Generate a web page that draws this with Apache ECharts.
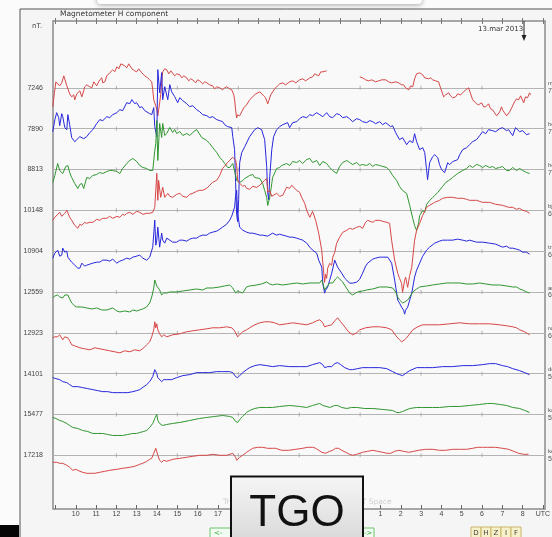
<!DOCTYPE html>
<html>
<head>
<meta charset="utf-8">
<script src="https://cdn.jsdelivr.net/npm/echarts@6/dist/echarts.min.js"></script>
<style>
  html, body { margin: 0; padding: 0; background: #fbfbfb; }
  #chart { width: 552px; height: 537px; }
</style>
</head>
<body>
<div id="chart"></div>
<script>
// baseline H level (nT) of each station row, top row first
const stationLevels = ['7246', '7890', '8813', '10148', '10904', '12559', '12923', '14101', '15477', '17218']
// right edge labels (mostly cut off by the window)
const stationTags = ['ny', 'ho', 'ho', 'bj', 'tr', 'an', 'rø', 'do', 'ka', 'ke']
const stationLats = ['75', '74', '73', '67', '66', '65', '64', '59', '57', '56']

// UT hours, 9 -> 33 is 09 UT on 12 Mar to 09 UT on 13 Mar
const hourTicks = [9, 10, 11, 12, 13, 14, 15, 16, 17, 18, 19, 20, 21, 22, 23, 24, 25, 26, 27, 28, 29, 30, 31, 32, 33]
const hourLabels = [10, 11, 12, 13, 14, 15, 16, 17, 18, 19, 20, 21, 22, 23, 24, 25, 26, 27, 28, 29, 30, 31, 32, 33]
const baselineMarks = [12, 15, 18, 21, 24, 27, 30]

// traces: [UT hour, deviation from the row baseline]
const trace1 = [[8.87,-19],[8.95,-5],[9.02,6],[9.11,8],[9.21,2],[9.31,5],[9.41,12],[9.46,10],[9.56,2],[9.61,1],[9.70,-6],[9.80,-9],[9.90,-7],[9.95,-12],[10.05,-6],[10.10,-5],[10.20,-3],[10.30,-9],[10.39,-3],[10.44,1],[10.54,3],[10.59,5],[10.69,1],[10.79,0],[10.89,6],[10.94,8],[11.03,2],[11.08,3],[11.18,8],[11.28,10],[11.33,5],[11.43,6],[11.53,12],[11.57,13],[11.67,15],[11.82,18],[11.92,16],[12.02,21],[12.12,19],[12.22,24],[12.31,25],[12.41,22],[12.51,20],[12.61,24],[12.66,23],[12.76,19],[12.81,20],[12.90,17],[13.00,16],[13.10,19],[13.15,18],[13.25,15],[13.30,13],[13.40,12],[13.54,10],[13.64,8],[13.74,6],[13.79,-2],[13.84,-12],[13.94,-18],[13.99,-22],[14.04,-28],[14.08,-29],[14.13,-15],[14.18,-7],[14.23,5],[14.28,16],[14.38,19],[14.48,18],[14.58,14],[14.68,17],[14.77,15],[14.87,12],[14.97,14],[15.12,13],[15.22,10],[15.32,12],[15.46,10],[15.56,7],[15.66,9],[15.76,8],[15.90,5],[16.00,8],[16.10,7],[16.25,4],[16.35,6],[16.45,5],[16.59,3],[16.74,2],[16.84,-1],[16.94,1],[17.09,0],[17.23,-2],[17.33,0],[17.43,1],[17.58,-1],[17.68,-2],[17.78,-7],[17.82,-12],[17.87,-22],[17.92,-30],[17.97,-27],[18.07,-28],[18.17,-24],[18.27,-20],[18.41,-17],[18.56,-12],[18.71,-9],[18.86,-6],[19.06,-4],[19.15,-5],[19.25,-8],[19.35,-10],[19.45,-16],[19.50,-13],[19.60,-7],[19.65,-5],[19.79,-1],[19.94,2],[20.04,4],[20.19,5],[20.33,3],[20.53,6],[20.68,7],[20.83,5],[21.02,8],[21.17,9],[21.32,7],[21.52,10],[21.66,11],[21.76,14],[21.86,13],[21.96,12],[22.06,16],[22.16,16],[22.25,15],[22.35,17],
  [23.1,null],
  [23.98,11],[24.12,10],[24.27,8],[24.42,7],[24.57,8],[24.76,6],[24.91,7],[25.06,8],[25.26,8],[25.40,6],[25.55,5],[25.75,6],[25.90,5],[26.04,3],[26.14,3],[26.24,0],[26.39,-2],[26.49,2],[26.59,1],[26.68,9],[26.78,14],[26.83,16],[26.93,15],[27.08,13],[27.18,10],[27.27,12],[27.37,9],[27.47,10],[27.57,8],[27.72,7],[27.86,6],[27.96,0],[28.06,-6],[28.11,-9],[28.21,-7],[28.36,-5],[28.45,-8],[28.55,-10],[28.70,-9],[28.80,-6],[28.95,-7],[29.05,-5],[29.19,-2],[29.34,0],[29.44,-6],[29.54,-12],[29.63,-14],[29.73,-16],[29.83,-17],[29.98,-15],[30.08,-19],[30.18,-19],[30.32,-16],[30.42,-21],[30.52,-22],[30.62,-25],[30.72,-28],[30.77,-30],[30.87,-24],[30.96,-19],[31.01,-22],[31.11,-25],[31.21,-28],[31.26,-30],[31.36,-24],[31.46,-20],[31.51,-19],[31.60,-14],[31.70,-11],[31.80,-12],[31.90,-8],[31.95,-10],[32.05,-15],[32.14,-9],[32.24,-10],[32.34,-5],[32.39,-7]]

const trace2 = [[8.87,-3],[8.97,9],[9.06,16],[9.16,11],[9.21,3],[9.31,15],[9.36,12],[9.46,1],[9.56,-1],[9.61,14],[9.70,4],[9.80,-9],[9.95,-13],[10.05,-11],[10.20,-8],[10.39,-10],[10.54,-8],[10.69,-4],[10.84,-1],[11.03,5],[11.18,9],[11.33,8],[11.53,12],[11.67,11],[11.82,14],[12.02,16],[12.17,19],[12.31,18],[12.51,26],[12.66,25],[12.76,29],[12.90,25],[13.00,26],[13.15,21],[13.25,22],[13.40,18],[13.49,19],[13.64,15],[13.74,14],[13.84,21],[13.89,2],[13.99,-8],[14.04,59],[14.13,36],[14.23,56],[14.28,29],[14.38,42],[14.53,29],[14.63,44],[14.72,37],[14.87,32],[15.02,26],[15.12,31],[15.27,28],[15.46,25],[15.61,22],[15.76,23],[15.95,19],[16.10,17],[16.25,14],[16.45,13],[16.59,11],[16.74,12],[16.94,9],[17.09,8],[17.23,7],[17.33,4],[17.48,2],[17.68,1],[17.73,-8],[17.82,-21],[17.87,-54],[17.92,-86],[17.97,-93],[18.02,-71],[18.07,-34],[18.17,-24],[18.32,-18],[18.56,-8],[18.81,-1],[18.96,1],[19.15,-1],[19.30,-11],[19.40,-38],[19.45,-64],[19.50,-71],[19.55,-48],[19.65,-21],[19.74,-8],[19.89,-1],[20.04,2],[20.19,4],[20.43,6],[20.53,1],[20.68,6],[20.88,7],[21.02,10],[21.17,12],[21.37,11],[21.52,14],[21.66,13],[21.86,16],[22.01,14],[22.16,12],[22.35,16],[22.50,12],[22.65,11],[22.84,15],[22.99,14],[23.14,11],[23.34,12],[23.48,10],[23.63,7],[23.83,10],[23.98,9],[24.12,7],[24.32,6],[24.47,8],[24.62,7],[24.76,5],[24.96,7],[25.11,4],[25.26,6],[25.50,2],[25.60,3],[25.75,-4],[25.94,-11],[26.09,-9],[26.29,-16],[26.44,-12],[26.59,-14],[26.68,-5],[26.78,-13],[26.93,-21],[27.08,-19],[27.18,-24],[27.27,-41],[27.32,-51],[27.42,-34],[27.57,-28],[27.67,-26],[27.82,-29],[27.91,-36],[28.01,-41],[28.16,-44],[28.31,-34],[28.41,-36],[28.55,-33],[28.80,-31],[28.90,-26],[29.05,-21],[29.24,-19],[29.39,-16],[29.54,-13],[29.73,-11],[29.88,-7],[30.03,-3],[30.18,-5],[30.32,-1],[30.52,-2],[30.67,-3],[30.87,0],[31.01,1],[31.21,-2],[31.31,-1],[31.51,-7],[31.65,1],[31.85,-3],[32.00,-2],[32.19,-6],[32.34,-5]]

const trace3 = [[8.87,-13],[8.97,-6],[9.11,6],[9.21,-1],[9.36,-4],[9.51,3],[9.61,4],[9.70,-3],[9.80,-8],[9.95,-14],[10.10,-19],[10.20,-15],[10.30,-14],[10.39,-19],[10.54,-8],[10.69,-9],[10.84,-6],[11.03,-5],[11.18,-3],[11.33,-4],[11.53,-2],[11.67,-1],[11.82,-1],[12.02,-2],[12.17,-4],[12.31,1],[12.51,6],[12.66,9],[12.81,11],[12.90,10],[13.00,8],[13.15,4],[13.30,2],[13.49,1],[13.64,-1],[13.79,-1],[13.89,19],[13.94,26],[13.99,49],[14.04,9],[14.13,46],[14.23,32],[14.28,46],[14.38,34],[14.48,36],[14.63,42],[14.77,37],[14.87,40],[14.97,36],[15.12,38],[15.27,34],[15.46,36],[15.61,34],[15.76,37],[15.95,40],[16.00,39],[16.20,32],[16.45,29],[16.59,26],[16.74,22],[16.94,17],[17.09,12],[17.23,9],[17.33,6],[17.48,2],[17.58,2],[17.73,6],[17.87,-6],[17.92,-11],[18.07,-13],[18.22,-11],[18.32,-9],[18.56,-6],[18.71,-5],[18.81,-8],[19.06,-9],[19.20,-14],[19.30,-21],[19.40,-28],[19.45,-36],[19.55,-28],[19.65,-14],[19.69,-8],[19.89,1],[20.04,2],[20.14,4],[20.38,6],[20.53,4],[20.68,8],[20.88,7],[21.02,9],[21.17,6],[21.37,10],[21.52,11],[21.66,7],[21.86,9],[22.01,4],[22.16,8],[22.35,6],[22.50,2],[22.65,-1],[22.84,-4],[22.99,3],[23.14,7],[23.34,9],[23.48,7],[23.63,5],[23.83,7],[23.98,4],[24.12,5],[24.32,4],[24.47,6],[24.62,3],[24.76,5],[24.96,4],[25.11,3],[25.31,2],[25.45,-1],[25.60,-6],[25.80,-11],[25.94,-17],[26.09,-21],[26.29,-24],[26.44,-36],[26.59,-49],[26.68,-56],[26.78,-61],[26.88,-53],[26.93,-46],[27.08,-41],[27.18,-43],[27.27,-35],[27.42,-31],[27.57,-28],[27.67,-26],[27.82,-23],[27.91,-21],[28.06,-17],[28.21,-13],[28.36,-11],[28.55,-8],[28.80,-4],[29.05,-1],[29.24,1],[29.39,4],[29.54,2],[29.73,5],[29.88,4],[30.03,2],[30.18,4],[30.37,2],[30.52,3],[30.67,1],[30.87,2],[31.01,3],[31.21,-1],[31.36,-1],[31.51,2],[31.70,-1],[31.85,1],[32.00,-1],[32.19,-3],[32.34,-4]]

const trace4 = [[8.87,-10],[8.97,-7],[9.06,-7],[9.21,-2],[9.31,-6],[9.36,-8],[9.46,-3],[9.56,0],[9.70,-7],[9.80,-10],[9.95,-15],[10.10,-18],[10.20,-14],[10.30,-15],[10.44,-12],[10.54,-13],[10.69,-12],[10.84,-12],[11.03,-9],[11.18,-10],[11.33,-8],[11.53,-8],[11.67,-6],[11.82,-8],[12.02,-6],[12.17,-7],[12.31,-4],[12.41,-5],[12.51,-3],[12.66,-2],[12.81,-4],[12.90,-3],[13.00,-1],[13.15,-2],[13.30,-4],[13.49,-3],[13.64,-3],[13.79,-2],[13.89,3],[13.99,37],[14.04,10],[14.08,30],[14.18,13],[14.28,23],[14.38,13],[14.53,17],[14.63,14],[14.77,13],[14.97,16],[15.12,17],[15.27,14],[15.46,13],[15.61,16],[15.76,17],[15.95,19],[16.10,20],[16.25,20],[16.45,22],[16.59,25],[16.74,28],[16.94,30],[17.09,35],[17.23,42],[17.33,44],[17.48,48],[17.58,50],[17.73,53],[17.87,50],[17.92,45],[17.97,30],[18.07,27],[18.22,24],[18.32,25],[18.41,22],[18.56,21],[18.71,24],[18.91,23],[19.06,25],[19.20,28],[19.30,30],[19.40,32],[19.45,18],[19.55,20],[19.65,14],[19.74,16],[19.89,17],[20.04,14],[20.19,15],[20.38,23],[20.53,22],[20.63,25],[20.88,20],[21.02,18],[21.12,13],[21.27,7],[21.37,0],[21.52,-7],[21.66,-1],[21.81,-10],[21.96,-23],[22.11,-40],[22.16,-52],[22.25,-72],[22.30,-64],[22.35,-68],[22.40,-58],[22.50,-53],[22.60,-55],[22.65,-47],[22.75,-42],[22.84,-33],[22.99,-27],[23.14,-22],[23.34,-20],[23.48,-18],[23.63,-19],[23.83,-17],[23.98,-16],[24.12,-18],[24.27,-12],[24.37,-10],[24.62,-12],[24.76,-10],[24.96,-10],[25.11,-11],[25.31,-12],[25.45,-13],[25.55,-30],[25.70,-50],[25.85,-63],[25.94,-68],[26.04,-73],[26.09,-82],[26.19,-70],[26.24,-67],[26.34,-77],[26.44,-65],[26.54,-57],[26.68,-30],[26.78,-20],[26.93,-13],[27.08,-5],[27.27,3],[27.42,5],[27.67,8],[27.91,10],[28.06,12],[28.31,13],[28.55,13],[28.80,12],[29.05,12],[29.24,11],[29.39,10],[29.73,10],[30.03,8],[30.37,8],[30.67,6],[31.01,5],[31.31,3],[31.51,3],[31.70,1],[31.85,2],[32.00,0],[32.19,-1],[32.34,-3]]

const trace5 = [[8.87,-7],[8.97,-2],[9.11,1],[9.21,-5],[9.31,-4],[9.36,3],[9.46,-1],[9.56,0],[9.61,-6],[9.70,-7],[9.80,-11],[9.95,-14],[10.10,-17],[10.20,-17],[10.30,-12],[10.44,-15],[10.54,-14],[10.69,-13],[10.84,-12],[11.03,-11],[11.18,-11],[11.33,-9],[11.53,-9],[11.67,-10],[11.82,-8],[12.02,-12],[12.17,-10],[12.31,-9],[12.51,-7],[12.66,-8],[12.81,-6],[13.00,-5],[13.15,-4],[13.30,-7],[13.49,-9],[13.64,-6],[13.79,4],[13.89,31],[13.94,6],[13.99,11],[14.04,24],[14.13,4],[14.23,18],[14.28,11],[14.38,8],[14.48,13],[14.63,11],[14.77,9],[14.97,9],[15.12,11],[15.27,11],[15.46,10],[15.61,12],[15.76,13],[15.95,13],[16.10,15],[16.25,16],[16.45,16],[16.59,18],[16.74,19],[16.94,20],[17.09,22],[17.23,24],[17.43,27],[17.58,31],[17.68,35],[17.82,44],[17.87,55],[17.92,61],[17.97,38],[18.07,24],[18.22,21],[18.41,19],[18.56,18],[18.71,18],[18.91,17],[19.06,16],[19.20,16],[19.45,15],[19.69,18],[19.89,16],[20.04,17],[20.19,16],[20.38,15],[20.53,14],[20.68,14],[20.88,13],[21.02,12],[21.17,11],[21.37,8],[21.52,4],[21.66,1],[21.86,-2],[21.96,-9],[22.11,-16],[22.16,-32],[22.25,-42],[22.30,-39],[22.40,-36],[22.50,-29],[22.60,-22],[22.75,-9],[22.84,-11],[22.89,-16],[23.09,-22],[23.24,-27],[23.34,-29],[23.48,-32],[23.63,-32],[23.83,-31],[23.98,-28],[24.12,-22],[24.27,-15],[24.37,-12],[24.62,-8],[24.76,-7],[24.96,-6],[25.11,-6],[25.36,-6],[25.45,-8],[25.55,-12],[25.70,-29],[25.85,-49],[25.94,-52],[26.04,-56],[26.14,-59],[26.19,-63],[26.24,-59],[26.34,-56],[26.44,-49],[26.54,-42],[26.68,-26],[26.78,-19],[26.93,-12],[27.08,-5],[27.27,1],[27.42,4],[27.67,8],[27.91,10],[28.06,11],[28.31,11],[28.55,11],[28.80,12],[29.05,11],[29.24,10],[29.39,11],[29.73,9],[30.03,9],[30.37,8],[30.67,7],[31.01,4],[31.21,5],[31.36,3],[31.51,3],[31.70,2],[31.85,1],[32.00,-1],[32.19,-1],[32.34,-3]]

const trace6 = [[8.87,-6],[8.97,-4],[9.11,-3],[9.21,-5],[9.36,-6],[9.46,-3],[9.61,-3],[9.70,-7],[9.80,-11],[9.95,-14],[10.05,-15],[10.30,-15],[10.54,-16],[10.79,-17],[11.03,-16],[11.28,-18],[11.53,-18],[11.82,-16],[12.02,-19],[12.17,-20],[12.41,-19],[12.66,-20],[12.81,-18],[13.00,-19],[13.15,-18],[13.30,-17],[13.49,-15],[13.64,-11],[13.74,-5],[13.84,4],[13.89,12],[13.99,6],[14.04,4],[14.13,2],[14.23,-3],[14.33,-1],[14.48,-1],[14.63,0],[14.72,0],[14.97,0],[15.27,1],[15.61,2],[15.95,3],[16.25,2],[16.45,4],[16.74,4],[17.09,5],[17.33,6],[17.58,7],[17.73,4],[17.87,-1],[17.97,1],[18.07,0],[18.22,-1],[18.41,5],[18.56,6],[18.91,7],[19.15,8],[19.40,10],[19.55,8],[19.69,7],[19.89,8],[20.19,7],[20.53,8],[20.88,9],[21.17,8],[21.52,9],[21.81,9],[22.01,9],[22.11,12],[22.16,9],[22.25,2],[22.35,5],[22.50,9],[22.65,9],[22.79,13],[22.89,15],[22.99,13],[23.14,10],[23.29,5],[23.39,2],[23.48,-1],[23.63,-3],[23.78,-1],[23.88,0],[24.12,1],[24.32,2],[24.62,3],[24.96,5],[25.31,5],[25.60,4],[25.75,0],[25.85,-5],[25.94,-8],[26.09,-11],[26.19,-10],[26.34,-8],[26.44,-5],[26.59,0],[26.78,3],[26.93,5],[27.27,6],[27.57,7],[27.91,8],[28.26,9],[28.55,9],[28.90,9],[29.24,8],[29.54,8],[29.88,9],[30.18,8],[30.52,7],[30.87,7],[31.21,6],[31.51,5],[31.70,5],[31.85,3],[32.00,2],[32.19,0],[32.34,-1]]

const trace7 = [[8.87,-5],[8.97,-4],[9.11,-4],[9.21,-2],[9.36,-7],[9.46,-4],[9.61,-5],[9.70,-8],[9.80,-12],[9.95,-13],[10.20,-15],[10.44,-16],[10.69,-17],[10.94,-15],[11.18,-16],[11.43,-17],[11.67,-18],[11.92,-19],[12.17,-20],[12.41,-18],[12.66,-19],[12.90,-17],[13.15,-18],[13.35,-15],[13.49,-12],[13.64,-9],[13.74,-4],[13.84,3],[13.89,11],[13.94,5],[13.99,9],[14.04,3],[14.13,-1],[14.23,-4],[14.33,-2],[14.48,-4],[14.63,-3],[14.77,-2],[15.12,-1],[15.46,1],[15.76,2],[16.10,3],[16.45,4],[16.74,5],[17.09,5],[17.43,6],[17.68,5],[17.82,2],[17.97,-4],[18.07,-2],[18.22,1],[18.41,3],[18.56,5],[18.81,8],[19.06,10],[19.30,11],[19.55,11],[19.79,10],[20.04,8],[20.38,9],[20.68,10],[21.02,9],[21.37,8],[21.66,10],[21.86,12],[22.01,13],[22.16,10],[22.25,6],[22.40,7],[22.60,8],[22.75,12],[22.89,15],[23.04,11],[23.24,6],[23.43,1],[23.63,-2],[23.83,0],[23.98,3],[24.27,5],[24.62,6],[24.96,6],[25.31,5],[25.55,3],[25.80,-4],[25.94,-7],[26.04,-9],[26.19,-7],[26.29,-5],[26.44,-1],[26.59,3],[26.83,6],[27.08,8],[27.42,8],[27.91,8],[28.41,9],[28.90,10],[29.39,9],[29.88,9],[30.37,9],[30.87,8],[31.21,7],[31.51,6],[31.70,5],[31.85,3],[32.10,1],[32.34,-2]]

const trace8 = [[8.87,-4],[9.02,-5],[9.21,-6],[9.36,-8],[9.56,-9],[9.70,-11],[9.85,-13],[10.10,-13],[10.34,-14],[10.59,-15],[10.84,-16],[11.08,-17],[11.33,-18],[11.57,-18],[11.82,-19],[12.07,-19],[12.31,-19],[12.56,-19],[12.81,-18],[13.00,-17],[13.15,-16],[13.35,-13],[13.49,-11],[13.64,-8],[13.79,-3],[13.89,4],[13.94,6],[13.99,0],[14.04,-4],[14.13,-6],[14.23,-8],[14.33,-6],[14.48,-6],[14.72,-6],[14.97,-4],[15.27,-2],[15.61,-1],[15.95,1],[16.25,1],[16.59,1],[16.94,2],[17.23,2],[17.58,2],[17.73,1],[17.87,-3],[17.97,-4],[18.07,-2],[18.22,1],[18.41,4],[18.56,6],[18.81,8],[19.06,9],[19.40,8],[19.69,7],[20.04,8],[20.53,7],[21.02,7],[21.37,7],[21.66,9],[22.01,11],[22.16,9],[22.25,6],[22.40,7],[22.60,7],[22.75,10],[22.89,11],[23.04,9],[23.24,6],[23.48,4],[23.63,4],[23.88,5],[24.12,6],[24.47,6],[24.96,6],[25.31,5],[25.60,2],[25.80,0],[25.94,-1],[26.09,-2],[26.29,1],[26.44,3],[26.78,6],[27.18,6],[27.57,6],[28.06,7],[28.55,7],[29.05,8],[29.54,8],[30.03,9],[30.37,10],[30.67,10],[31.01,8],[31.26,7],[31.51,5],[31.85,3],[32.10,1],[32.34,-1]]

const trace9 = [[8.87,-3],[9.02,-4],[9.21,-6],[9.36,-7],[9.56,-9],[9.70,-11],[9.85,-13],[10.10,-14],[10.34,-16],[10.59,-17],[10.84,-19],[11.08,-19],[11.33,-19],[11.57,-20],[11.82,-21],[12.07,-21],[12.31,-21],[12.56,-20],[12.81,-19],[13.00,-19],[13.15,-18],[13.35,-17],[13.49,-16],[13.64,-13],[13.79,-9],[13.89,-4],[13.99,0],[14.04,-6],[14.13,-9],[14.28,-11],[14.48,-10],[14.77,-9],[15.12,-8],[15.61,-6],[16.10,-4],[16.45,-3],[16.84,-2],[17.23,-1],[17.58,-2],[17.73,-3],[17.87,-7],[17.97,-8],[18.07,-5],[18.22,-2],[18.41,2],[18.56,4],[18.81,6],[19.06,7],[19.40,7],[19.69,7],[20.04,8],[20.53,9],[21.02,8],[21.37,7],[21.66,9],[22.01,11],[22.16,9],[22.25,7],[22.50,7],[22.75,9],[22.89,9],[23.09,7],[23.34,6],[23.58,7],[23.83,7],[24.22,6],[24.62,6],[25.11,5],[25.60,4],[25.80,2],[25.94,2],[26.09,3],[26.44,6],[26.78,7],[27.08,7],[27.57,7],[27.91,7],[28.41,8],[28.90,8],[29.39,9],[29.88,10],[30.27,11],[30.52,11],[30.87,10],[31.21,9],[31.51,7],[31.85,6],[32.10,4],[32.34,2]]

const trace10 = [[8.87,-7],[9.06,-7],[9.21,-8],[9.36,-8],[9.56,-10],[9.70,-12],[9.85,-15],[10.00,-14],[10.20,-16],[10.34,-17],[10.54,-18],[10.69,-18],[10.94,-18],[11.18,-17],[11.43,-16],[11.67,-15],[12.02,-14],[12.31,-13],[12.66,-12],[12.90,-11],[13.15,-9],[13.30,-8],[13.49,-6],[13.64,-4],[13.74,-3],[13.84,2],[13.94,7],[13.99,5],[14.04,0],[14.13,-5],[14.23,-7],[14.33,-5],[14.48,-6],[14.63,-5],[14.77,-4],[15.12,-3],[15.46,-2],[15.76,-1],[16.10,0],[16.45,0],[16.74,1],[17.09,0],[17.43,0],[17.73,2],[17.87,-2],[17.92,-5],[18.07,-2],[18.22,0],[18.41,3],[18.56,5],[18.71,7],[18.96,8],[19.20,8],[19.45,7],[19.69,7],[19.84,7],[20.14,5],[20.48,5],[20.83,6],[21.17,7],[21.42,8],[21.66,8],[21.81,7],[21.96,5],[22.11,3],[22.30,2],[22.50,4],[22.65,5],[22.79,7],[22.94,7],[23.09,5],[23.29,3],[23.48,1],[23.63,0],[23.83,1],[24.12,3],[24.37,4],[24.62,5],[24.86,4],[25.11,3],[25.31,2],[25.50,2],[25.70,4],[25.90,5],[26.14,4],[26.39,3],[26.64,4],[26.88,5],[27.22,6],[27.57,6],[27.91,5],[28.21,5],[28.55,6],[28.90,6],[29.24,6],[29.54,7],[29.78,8],[30.03,8],[30.27,8],[30.67,8],[31.01,7],[31.31,6],[31.56,4],[31.80,2],[32.05,1],[32.29,1]]

const traces = [trace1, trace2, trace3, trace4, trace5, trace6, trace7, trace8, trace9, trace10]
const traceColors = ['#d64646', '#2626dc', '#2f962f']

const rowStep = 40.83
const rows = stationLevels.length
const baseOf = (i) => (rows - 1 - i) * rowStep
const baseValues = stationLevels.map((_, i) => baseOf(i)).reverse()

const chart = echarts.init(document.getElementById('chart'))

const labelFont = { fontFamily: 'Liberation Sans', fontSize: 7, color: '#444' }

const series = traces.map((tr, i) => ({
  type: 'line',
  name: stationLevels[i],
  data: tr.map(p => [p[0], p[1] == null ? null : p[1] + baseOf(i)]),
  showSymbol: false,
  symbol: 'none',
  connectNulls: false,
  lineStyle: { width: 1, color: traceColors[i % 3] },
  z: 3,
  markLine: {
    silent: true,
    symbol: 'none',
    label: { show: false },
    lineStyle: { color: '#b4b4b4', width: 1, type: 'solid' },
    data: [{ yAxis: baseOf(i) }],
    z: 1
  }
}))

// little tick marks sitting on each baseline every 3 hours
series.push({
  type: 'scatter',
  silent: true,
  symbol: 'rect',
  symbolSize: [1, 4],
  itemStyle: { color: '#a0a0a0' },
  data: stationLevels.flatMap((_, i) => baselineMarks.map(h => [h, baseOf(i)])),
  z: 2
})

chart.setOption({
  animation: false,
  backgroundColor: '#fbfbfb',
  grid: {
    left: 53, right: 7, top: 21, bottom: 28,
    outerBoundsMode: 'none',
    containLabel: false,
    show: true,
    backgroundColor: '#f9f9f9',
    borderColor: '#8c8c8c',
    borderWidth: 1.5
  },
  xAxis: [
    {
      type: 'value', min: 8.88, max: 33.1, position: 'bottom',
      axisLine: { show: false, onZero: false },
      splitLine: { show: false },
      axisTick: { customValues: hourTicks, inside: true, length: 4, lineStyle: { color: '#666' } },
      axisLabel: {
        customValues: hourLabels, margin: 2, ...labelFont,
        formatter: v => (v === 33 ? 'UTC' : String(v % 24))
      }
    },
    {
      type: 'value', min: 8.88, max: 33.1, position: 'top', offset: 3,
      axisLine: { show: false, onZero: false },
      splitLine: { show: false },
      axisTick: { customValues: hourTicks, inside: true, length: 6, lineStyle: { color: '#777' } },
      axisLabel: { show: false }
    }
  ],
  yAxis: [
    {
      type: 'value', min: -53.7, max: 434.3,
      axisLine: { show: false, onZero: false },
      splitLine: { show: false },
      axisTick: { show: false },
      axisLabel: {
        customValues: baseValues, margin: 10, ...labelFont,
        formatter: v => stationLevels[rows - 1 - Math.round(v / rowStep)]
      }
    },
    {
      type: 'value', min: -53.7, max: 434.3, position: 'right',
      axisLine: { show: false, onZero: false },
      splitLine: { show: false },
      axisTick: { show: false },
      axisLabel: {
        customValues: baseValues, margin: 3, align: 'left',
        formatter: v => {
          const k = rows - 1 - Math.round(v / rowStep)
          return '{a|' + stationTags[k] + '}\n{b|' + stationLats[k] + '}'
        },
        rich: {
          a: { fontFamily: 'Liberation Sans', fontSize: 6, color: '#555', lineHeight: 7 },
          b: { fontFamily: 'Liberation Sans', fontSize: 7, color: '#555', lineHeight: 8 }
        }
      }
    }
  ],
  graphic: [
    // outer panel
    { type: 'rect', z: -10, shape: { x: 20, y: 9, width: 540, height: 540 }, style: { fill: '#f5f5f5', stroke: '#555', lineWidth: 1 } },
    // shaded tab at the very top
    { type: 'rect', z: -5, shape: { x: 97, y: -20, width: 325, height: 24, r: 4 }, style: { fill: '#fcfcfc', shadowBlur: 5, shadowOffsetY: 1, shadowColor: 'rgba(0,0,0,0.35)' } },
    { type: 'rect', z: 20, shape: { x: 0, y: 525, width: 19, height: 14 }, style: { fill: '#050505' } },
    { type: 'text', z: 20, style: { text: 'Magnetometer H component', x: 60, y: 14, font: '7.5px "DejaVu Sans"', fill: '#333', textVerticalAlign: 'middle' } },
    { type: 'text', z: 20, style: { text: 'nT.', x: 32, y: 26, font: '7px "DejaVu Sans"', fill: '#444', textVerticalAlign: 'middle' } },
    { type: 'text', z: 20, style: { text: '13.mar 2013', x: 478, y: 29, font: '7px "DejaVu Sans"', fill: '#333', textVerticalAlign: 'middle' } },
    { type: 'polyline', z: 20, shape: { points: [[524, 21], [524, 38]] }, style: { stroke: '#222', lineWidth: 1 } },
    { type: 'polygon', z: 20, shape: { points: [[521.5, 35], [526.5, 35], [524, 41]] }, style: { fill: '#222' } },
    { type: 'text', z: 20, style: { text: 'Tromsø Geophysical Observatory - UiT Space', x: 223, y: 502, font: '7.5px "DejaVu Sans"', fill: '#cfcfcf', textVerticalAlign: 'middle' } },
    // nav buttons
    { type: 'rect', z: 20, shape: { x: 210, y: 528, width: 21, height: 11 }, style: { fill: '#f2fbf2', stroke: '#6cc46c', lineWidth: 1 } },
    { type: 'text', z: 21, style: { text: '<-', x: 214, y: 533, font: '7px "DejaVu Sans"', fill: '#3a3', textVerticalAlign: 'middle' } },
    { type: 'rect', z: 20, shape: { x: 352, y: 528, width: 22, height: 11 }, style: { fill: '#f2fbf2', stroke: '#6cc46c', lineWidth: 1 } },
    { type: 'text', z: 21, style: { text: '->', x: 364, y: 533, font: '7px "DejaVu Sans"', fill: '#3a3', textVerticalAlign: 'middle' } },
    ...['D', 'H', 'Z', 'I', 'F'].flatMap((c, k) => [
      { type: 'rect', z: 20, shape: { x: 471 + k * 10, y: 527, width: 10, height: 12 }, style: { fill: '#f6f1c8', stroke: '#c9b56a', lineWidth: 1 } },
      { type: 'text', z: 21, style: { text: c, x: 476 + k * 10, y: 533, font: '7px "DejaVu Sans"', fill: '#444', textAlign: 'center', textVerticalAlign: 'middle' } }
    ]),
    // TGO badge
    {
      type: 'rect', z: 30, shape: { x: 231, y: 476.5, width: 132, height: 70 },
      style: {
        stroke: '#111', lineWidth: 2,
        fill: new echarts.graphic.LinearGradient(0, 0, 0, 1, [
          { offset: 0, color: '#f6f6f6' },
          { offset: 1, color: '#d6d6d6' }
        ])
      }
    },
    { type: 'text', z: 31, style: { text: 'TGO', x: 297, y: 514, font: '44px "Liberation Sans"', fill: '#111', textAlign: 'center', textVerticalAlign: 'middle' } }
  ],
  series
})
</script>
</body>
</html>
